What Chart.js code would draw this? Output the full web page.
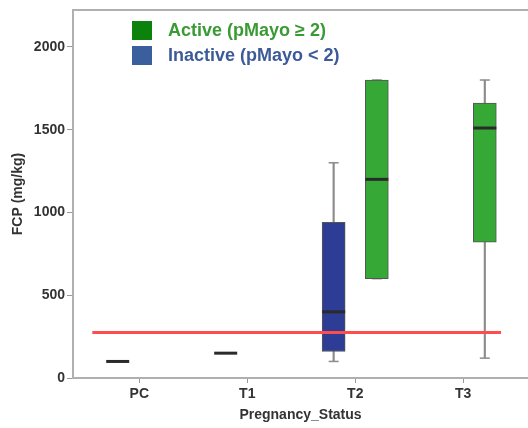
<!DOCTYPE html>
<html>
<head>
<meta charset="utf-8">
<script src="https://cdn.jsdelivr.net/npm/chart.js@4.4.0/dist/chart.umd.min.js"></script>
<style>
  body { margin: 0; background: #fff; font-family: "Liberation Sans", Arial, sans-serif; }
  #wrap { position: relative; width: 528px; height: 428px; }
  .legend { position: absolute; left: 132px; top: 18px; font-weight: bold; font-size: 18px; }
  .legend .row { display: flex; align-items: center; height: 25px; }
  .legend .sq { width: 20px; height: 19px; margin-right: 16px; }
</style>
</head>
<body>
<div id="wrap">
  <canvas id="chart"></canvas>
  <div class="legend">
    <div class="row" style="color:#3a9a35"><span class="sq" style="background:#0b820b"></span>Active (pMayo ≥ 2)</div>
    <div class="row" style="color:#3d5a99"><span class="sq" style="background:#3a5f9c"></span>Inactive (pMayo &lt; 2)</div>
  </div>
</div>
<script>
const categories = ['PC', 'T1', 'T2', 'T3'];

// Inactive (pMayo < 2)
const inactiveMin = [100, 150, 100, null];
const inactiveQ1 = [100, 150, 160, null];
const inactiveMedian = [100, 150, 400, null];
const inactiveQ3 = [100, 150, 940, null];
const inactiveMax = [100, 150, 1300, null];

// Active (pMayo >= 2)
const activeMin = [null, null, 600, 120];
const activeQ1 = [null, null, 600, 820];
const activeMedian = [null, null, 1200, 1510];
const activeQ3 = [null, null, 1800, 1660];
const activeMax = [null, null, 1800, 1800];

const cutoff = 275;
const yTicks = [0, 500, 1000, 1500, 2000];

Chart.defaults.font.family = '"Liberation Sans", Arial, sans-serif';

// one box plot group = whisker + caps + box + median
function boxGroup(min, q1, med, q3, max, offset, fill) {
  const pts = (arr, fn) => categories.map((c, i) => arr[i] == null ? null : fn(i)).filter(p => p);
  return [
    {
      type: 'bar', grouped: false, order: 6,
      data: pts(min, i => ({ x: i + offset, y: [min[i], max[i]] })),
      backgroundColor: '#8c8c8c', barThickness: 1.5
    },
    {
      type: 'scatter', order: 5,
      data: pts(min, i => ({ x: i + offset, y: min[i] })).concat(pts(max, i => ({ x: i + offset, y: max[i] }))),
      pointStyle: 'line', pointRadius: 5, pointBorderColor: '#8c8c8c', pointBorderWidth: 1.5
    },
    {
      type: 'bar', grouped: false, order: 4,
      data: pts(q1, i => ({ x: i + offset, y: [q1[i], q3[i]] })),
      backgroundColor: fill, borderColor: '#555', borderWidth: 1, borderSkipped: false, barThickness: 23
    },
    {
      type: 'scatter', order: 1,
      data: pts(med, i => ({ x: i + offset, y: med[i] })),
      pointStyle: 'line', pointRadius: 11.5, pointBorderColor: '#2a2a2a', pointBorderWidth: 3
    }
  ];
}

const datasets = [
  ...boxGroup(inactiveMin, inactiveQ1, inactiveMedian, inactiveQ3, inactiveMax, -0.2, '#2d3d95'),
  ...boxGroup(activeMin, activeQ1, activeMedian, activeQ3, activeMax, 0.2, '#36a836'),
  {
    type: 'line', order: 2,
    data: [{ x: -0.435, y: cutoff }, { x: 3.35, y: cutoff }],
    borderColor: '#ff4d4d', borderWidth: 3, pointRadius: 0
  }
];

function noPad(s) {
  s.paddingTop = 0; s.paddingBottom = 0; s.paddingLeft = 0; s.paddingRight = 0;
}

new Chart(document.getElementById('chart'), {
  type: 'bar',
  data: { datasets },
  options: {
    responsive: true,
    maintainAspectRatio: false,
    animation: false,
    layout: { autoPadding: false, padding: { top: 10, left: 0, right: 0, bottom: 0 } },
    plugins: { legend: { display: false }, tooltip: { enabled: false } },
    scales: {
      x: {
        type: 'linear', offset: false,
        min: -0.614, max: 3.6,
        afterBuildTicks: s => { s.ticks = categories.map((c, i) => ({ value: i })); },
        afterFit: s => { s.height = 50; noPad(s); },
        ticks: {
          callback: v => categories[v],
          font: { size: 14, weight: 'bold' }, color: '#333', padding: 3,
          maxRotation: 0, autoSkip: false
        },
        grid: { offset: false, drawOnChartArea: false, tickLength: 5, color: '#999' },
        border: { color: '#b0b0b0', width: 2 },
        title: {
          display: true, text: 'Pregnancy_Status', color: '#333',
          font: { size: 14, weight: 'bold' }, padding: { top: 0, bottom: 4 }
        }
      },
      xTop: {
        type: 'linear', position: 'top',
        afterFit: s => { s.height = 0; noPad(s); },
        ticks: { display: false },
        grid: { display: false },
        border: { color: '#b0b0b0', width: 2 }
      },
      y: {
        min: 0, max: 2223,
        afterBuildTicks: s => { s.ticks = yTicks.map(v => ({ value: v })); },
        afterFit: s => { s.width = 73; noPad(s); },
        ticks: { callback: v => String(v), font: { size: 14, weight: 'bold' }, color: '#333', padding: 2 },
        grid: { drawOnChartArea: false, tickLength: 6, color: '#999' },
        border: { color: '#b0b0b0', width: 2 },
        title: {
          display: true, text: 'FCP (mg/kg)', color: '#333',
          font: { size: 14, weight: 'bold' }, padding: { top: 10, bottom: 0 }
        }
      }
    }
  }
});
</script>
</body>
</html>
